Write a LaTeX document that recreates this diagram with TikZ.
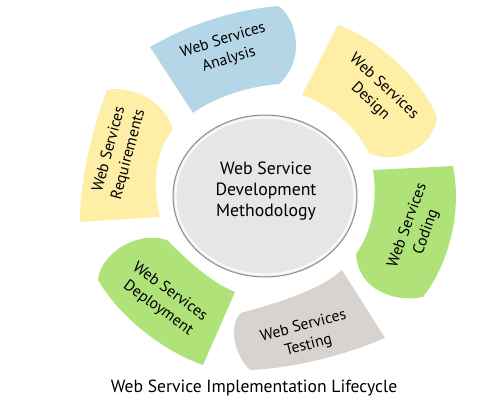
\documentclass[tikz,border=0pt]{standalone}
\usepackage{fontspec}
\setmainfont{PT Sans}
\usepackage{tikz}

\begin{document}
\begin{tikzpicture}[x=0.75pt,y=0.75pt,yscale=-1,xscale=1]
\path [use as bounding box] (0,0) rectangle (500,400); %set diagram left start at 0, and has height of 400

%Shape: Web Services Analysis
\draw  [draw opacity=0][fill={rgb, 255:red, 180; green, 214; blue, 231 }  ,fill opacity=1 ] (150,47) .. controls (188,25) and (232,10) .. (278,6) .. controls (297,18) and (306,60) .. (279,84) .. controls (250,86) and (215,97) .. (193,113) -- cycle ;

%Shape: Web Services Design
\draw  [draw opacity=0][fill={rgb, 255:red, 254; green, 238; blue, 166 }  ,fill opacity=1 ] (338,25) .. controls (370,35) and (420,75) .. (437,117) .. controls (433,148) and (398,166) .. (369,153) .. controls (355,125) and (330,105) .. (302,95) -- cycle ;

%Shape: Web Services Coding
\draw  [draw opacity=0][fill={rgb, 255:red, 176; green, 226; blue, 122 }  ,fill opacity=1 ] (373,170) -- (453,166) .. controls (462,210) and (450,262) .. (423,297) .. controls (395,303) and (358,290) .. (356,254) .. controls (372,232) and (378,200) .. (373,170) -- cycle ;

%Shape: Web Services Testing
\draw  [draw opacity=0][fill={rgb, 255:red, 216; green, 211; blue, 207 }  ,fill opacity=1 ] (342,270) -- (385,338) .. controls (345,355) and (295,368) .. (250,370) .. controls (234,355) and (228,325) .. (241,313) .. controls (280,302) and (320,290) .. (342,270) -- cycle ;

%Shape: Web Services Deployment
\draw  [draw opacity=0][fill={rgb, 255:red, 176; green, 226; blue, 122 }  ,fill opacity=1 ] (167,240) .. controls (185,258) and (210,282) .. (235,292) -- (203,365) .. controls (165,352) and (120,318) .. (98,280) .. controls (100,255) and (135,230) .. (167,240) -- cycle ;

%Shape: Web Services Requirements
\draw  [draw opacity=0][fill={rgb, 255:red, 254; green, 238; blue, 166 }  ,fill opacity=1 ] (80,222) -- (160,217) .. controls (152,185) and (155,150) .. (173,130) .. controls (165,100) and (130,85) .. (107,90) .. controls (92,130) and (80,180) .. (80,222) -- cycle ;

%Shape: Circle -- Methodology
\draw [color={rgb, 255:red, 140; green, 140; blue, 140 }  ][fill={rgb, 255:red, 230; green, 230; blue, 230 }  ][line width=0.75]  (265,196) circle [x radius= 92, y radius= 81]   ;
\draw [color={rgb, 255:red, 255; green, 255; blue, 255 }  ,draw opacity=0.8 ][line width=1.5]  (265,196) circle [x radius= 89.5, y radius= 78.5]   ;

%Labels
\draw (266,191) node (methodology) [font=\fontsize{13.3}{15.75}\selectfont, align=center] {Web Service\\Development\\Methodology};
\draw (226,50) node (analysis) [rotate=17, font=\fontsize{11.8}{15}\selectfont, align=center] {Web Services\\Analysis};
\draw (377,94) node (design) [rotate=-43, font=\fontsize{11.8}{15}\selectfont, align=center] {Web Services\\Design};
\draw (417,229) node (coding) [rotate=70, font=\fontsize{11.8}{15}\selectfont, align=center] {Web Services\\Coding};
\draw (306,336) node (testing) [rotate=15, font=\fontsize{11.8}{15}\selectfont, align=center] {Web Services\\Testing};
\draw (164,300) node (deployment) [rotate=-36, font=\fontsize{11.8}{15}\selectfont, align=center] {Web Services\\Deployment};
\draw (119,152) node (requirements) [rotate=75, font=\fontsize{11.8}{15}\selectfont, align=center] {Web Services\\Requirements};
\draw (254,388) node (lifecycle) [font=\fontsize{13.2}{16}\selectfont] {Web Service Implementation Lifecycle};

\end{tikzpicture}
\end{document}
